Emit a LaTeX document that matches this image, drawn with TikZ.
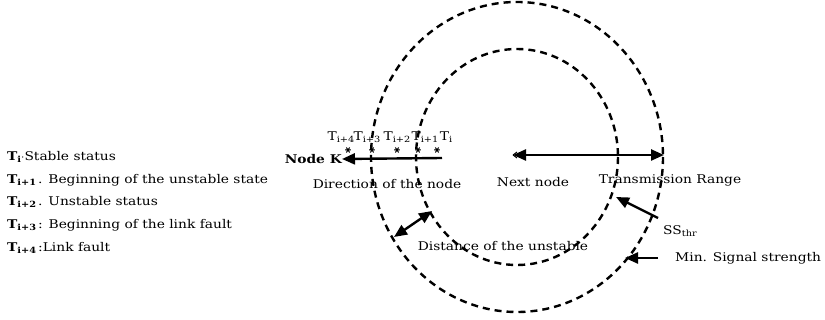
\documentclass[tikz,border=0pt]{standalone}
\usepackage{fontspec}
\setmainfont{DejaVu Serif}[FakeStretch=1.15]
\usetikzlibrary{arrows.meta,calc}
\tikzset{
  rangering/.style={draw=black, line width=2.4pt, dash pattern=on 7pt off 5pt},
  bigarrow/.style={line width=2.4pt, -{Triangle[length=13pt,width=11pt]}},
  botharrow/.style={line width=2.4pt, {Triangle[length=13pt,width=11pt]}-{Triangle[length=13pt,width=11pt]}},
  lbl/.style={inner sep=0pt, font=\fontsize{12}{14}\selectfont},
  legend/.style={lbl, anchor=west},
  instmark/.style={inner sep=0pt, minimum size=5pt},
}
% text subscript in the main font
\newcommand{\tsub}[1]{\raisebox{-0.35ex}{\fontsize{8.5}{9}\selectfont #1}}
\newcommand{\starmark}[1]{%
  \draw[line width=1pt] ($(#1)+(-2.8,0)$) -- ($(#1)+(2.8,0)$)
    ($(#1)+(-1.6,-2.5)$) -- ($(#1)+(1.6,2.5)$)
    ($(#1)+(-1.6,2.5)$) -- ($(#1)+(1.6,-2.5)$);}
\begin{document}
\begin{tikzpicture}[x=1pt, y=-1pt]
\useasboundingbox (0,0) rectangle (825,320);

% transmission boundaries around the next node
\coordinate (centre) at (517,157);
\draw[rangering] (centre) ellipse [x radius=146, y radius=155];
\draw[rangering] (centre) ellipse [x radius=101, y radius=108];

% legend
\node[legend] (l0) at (7,157) {\textbf{T\tsub{i}}$\cdot$Stable status};
\node[legend] (l1) at (7,180) {\textbf{T\tsub{i+1}}\,. Beginning of the unstable state};
\node[legend] (l2) at (7,202) {\textbf{T\tsub{i+2}}\,. Unstable status};
\node[legend] (l3) at (7,225) {\textbf{T\tsub{i+3}}\,: Beginning of the link fault};
\node[legend] (l4) at (7,248) {\textbf{T\tsub{i+4}}\,:Link fault};

% moving node and its path
\node[lbl, anchor=east, font=\fontsize{12}{14}\selectfont\bfseries] (nodek) at (342,159) {Node K};
\coordinate (pathstart) at (442,158);
\draw[bigarrow] (pathstart) -- (nodek.east);
\node[lbl] (dir) at (387,184) {Direction of the node};

% time instants along the path
\node[instmark] (m4) at (348,150) {}; \starmark{m4}
\node[instmark] (m3) at (372,150) {}; \starmark{m3}
\node[instmark] (m2) at (397,150) {}; \starmark{m2}
\node[instmark] (m1) at (418,150) {}; \starmark{m1}
\node[instmark] (m0) at (437,150) {}; \starmark{m0}
\node[lbl] (t4) at (341,137) {T\tsub{i+4}};
\node[lbl] (t3) at (367,137) {T\tsub{i+3}};
\node[lbl] (t2) at (397,137) {T\tsub{i+2}};
\node[lbl] (t1) at (425,137) {T\tsub{i+1}};
\node[lbl] (t0) at (446,137) {T\tsub{i}};

% next node and its transmission range
\coordinate (next) at (513,155);
\coordinate (rangeend) at (664,155);
\draw[line width=1pt] (next) -- ++(4,-3) (next) -- ++(4,3);
\draw[botharrow] (next) -- (rangeend);
\node[lbl] (nextlbl) at (533,182) {Next node};
\node[lbl] (trlbl) at (670,180) {Transmission Range};

% unstable zone width
\coordinate (du1) at (394,237);
\coordinate (du2) at (432,211);
\draw[botharrow] (du1) -- (du2);
\node[lbl] (dulbl) at (503,246) {Distance of the unstable};

% signal strength thresholds
\node[lbl, anchor=west] (ss) at (663,231) {SS\tsub{thr}};
\coordinate (ssfrom) at (658,218);
\coordinate (ssto) at (616,197);
\draw[bigarrow] (ssfrom) -- (ssto);
\node[lbl, anchor=west] (minss) at (675,258) {Min. Signal strength};
\coordinate (minfrom) at (658,258);
\coordinate (minto) at (625,258);
\draw[bigarrow] (minfrom) -- (minto);
\end{tikzpicture}
\end{document}
